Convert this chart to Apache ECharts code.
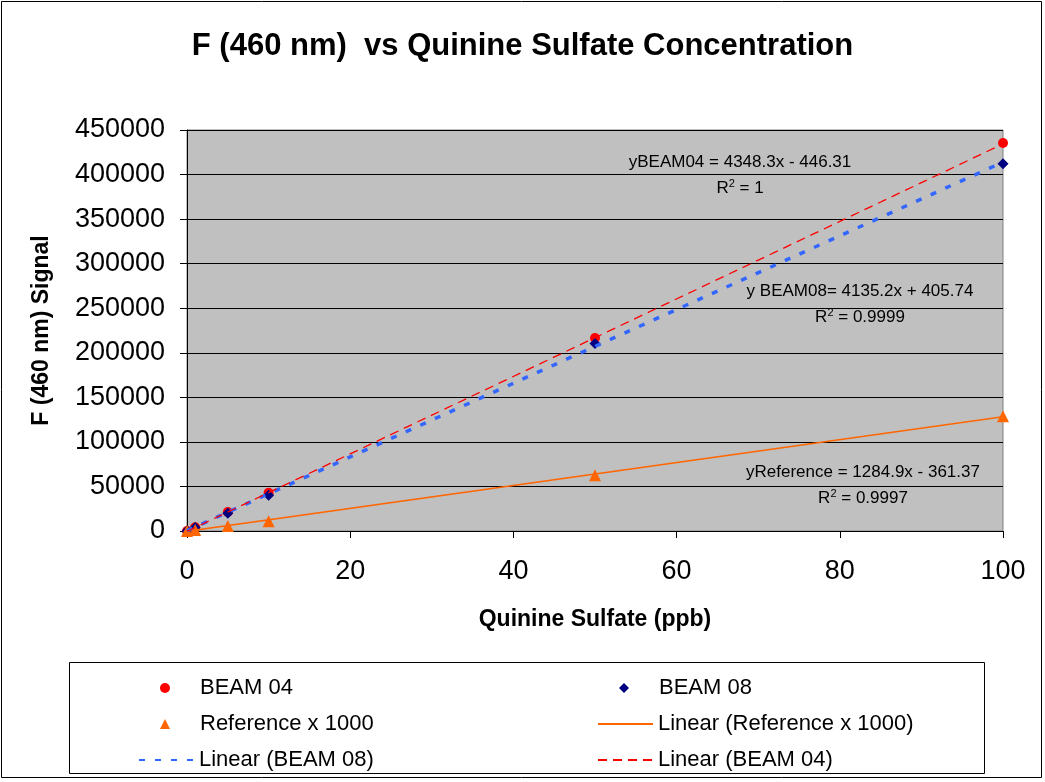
<!DOCTYPE html>
<html>
<head>
<meta charset="utf-8">
<title>F (460 nm) vs Quinine Sulfate Concentration</title>
<script src="https://cdn.jsdelivr.net/npm/echarts@6/dist/echarts.min.js"></script>
<style>
  html, body { margin: 0; padding: 0; background: #fff; }
  #chart { width: 1045px; height: 782px; }
</style>
</head>
<body>
<div id="chart"></div>
<script>
// data
const conc = [0, 1, 5, 10, 50, 100];
const beam04 = [0, 4200, 21300, 43000, 216500, 435500];
const beam08 = [0, 4000, 20000, 40000, 210500, 412000];
const reference = [0, 1000, 5500, 11000, 62500, 128800];

// trendline coefficients shown on the chart (slope, intercept, R2)
const fitNames = ['yBEAM04 = ', 'y BEAM08= ', 'yReference = '];
const fitSlope = [4348.3, 4135.2, 1284.9];
const fitIntercept = [-446.31, 405.74, -361.37];
const fitR2 = ['1', '0.9999', '0.9997'];
const xTicks = [0, 20, 40, 60, 80, 100];

const FONT = '"Liberation Sans", Arial, sans-serif';

let pairs = (ys) => conc.map((x, i) => [x, ys[i]]);
let fitLine = (k) => {
  const x0 = xTicks[0], x1 = xTicks[xTicks.length - 1];
  return [[x0, fitSlope[k] * x0 + fitIntercept[k]], [x1, fitSlope[k] * x1 + fitIntercept[k]]];
};
let eqText = (k) => {
  const b = fitIntercept[k];
  return fitNames[k] + fitSlope[k] + 'x ' + (b < 0 ? '- ' : '+ ') + Math.abs(b);
};

// equation labels, placed like the spreadsheet did
let eqLabel = (k, cx, cy) => ([
  {
    type: 'text', x: cx, y: cy, z: 100,
    style: { text: eqText(k), font: '17px ' + FONT, fill: '#000', align: 'center', verticalAlign: 'middle' }
  },
  {
    type: 'text', x: cx, y: cy + 26, z: 100,
    style: {
      text: '{r|R}{s|2}{r| = ' + fitR2[k] + '}',
      fill: '#000', align: 'center', verticalAlign: 'middle',
      rich: {
        r: { fontSize: 17, fontFamily: FONT, lineHeight: 20 },
        s: { fontSize: 11, fontFamily: FONT, lineHeight: 20, verticalAlign: 'top', padding: [0, 0, 8, 0] }
      }
    }
  }
]);

// one legend box per entry so markers and lines can sit like the original
const legendText = { fontFamily: FONT, fontSize: 22, color: '#000', lineHeight: 24 };
let markerLegend = (name, left, top) => ({
  left: left, top: top, itemWidth: 10, itemHeight: 10,
  textStyle: Object.assign({ padding: [0, 0, 0, 25] }, legendText),
  data: [{ name: name, itemStyle: { opacity: 1 } }]
});
let lineLegend = (name, left, top) => ({
  left: left, top: top, itemWidth: 55, itemHeight: 10,
  textStyle: legendText,
  data: [{ name: name, itemStyle: { color: 'rgba(0,0,0,0)', opacity: 0 } }]
});

// 1. init
let myChart = echarts.init(document.getElementById('chart'));

// 2. option
let option = {
  animation: false,
  backgroundColor: '#fff',
  title: {
    text: 'F (460 nm)  vs Quinine Sulfate Concentration',
    left: 'center',
    top: 26,
    textStyle: { fontFamily: FONT, fontSize: 31, fontWeight: 'bold', color: '#000' }
  },
  grid: {
    left: 187, right: 42, top: 130, bottom: 251,
    show: true,
    backgroundColor: '#C0C0C0',
    borderColor: '#808080',
    borderWidth: 1,
    containLabel: false,
    outerBoundsMode: 'none'
  },
  xAxis: {
    type: 'value',
    min: 0, max: 100, interval: 20,
    name: 'Quinine Sulfate (ppb)',
    nameLocation: 'middle',
    nameGap: 77,
    nameTextStyle: { fontFamily: FONT, fontSize: 23, fontWeight: 'bold', color: '#000', verticalAlign: 'top' },
    axisLine: { show: true, lineStyle: { color: '#000', width: 1 } },
    axisTick: { show: true, inside: false, length: 7, lineStyle: { color: '#000' } },
    axisLabel: { fontFamily: FONT, fontSize: 27, color: '#000', margin: 27 },
    splitLine: { show: false }
  },
  yAxis: {
    type: 'value',
    min: 0, max: 450000, interval: 50000,
    name: 'F (460 nm) Signal',
    nameLocation: 'middle',
    nameRotate: 90,
    nameGap: 134,
    nameTextStyle: { fontFamily: FONT, fontSize: 23, fontWeight: 'bold', color: '#000' },
    axisLine: { show: true, lineStyle: { color: '#000', width: 1 } },
    axisTick: { show: true, inside: false, length: 7, lineStyle: { color: '#000' } },
    axisLabel: { fontFamily: FONT, fontSize: 27, color: '#000', margin: 22, formatter: (v) => String(v) },
    splitLine: { show: true, lineStyle: { color: '#000', width: 1 } }
  },
  legend: [
    markerLegend('BEAM 04', 155, 671),
    markerLegend('Reference x 1000', 155, 707),
    lineLegend('Linear (BEAM 08)', 133, 743),
    markerLegend('BEAM 08', 614, 671),
    lineLegend('Linear (Reference x 1000)', 592, 707),
    lineLegend('Linear (BEAM 04)', 592, 743)
  ],
  graphic: [
    // outer chart border
    { type: 'rect', shape: { x: 1.5, y: 1.5, width: 1040, height: 776 }, style: { fill: 'none', stroke: '#000', lineWidth: 1 }, z: -1 },
    // legend frame
    { type: 'rect', shape: { x: 69.5, y: 662.5, width: 915, height: 111 }, style: { fill: 'none', stroke: '#000', lineWidth: 1 } },
    ...eqLabel(0, 740, 162),
    ...eqLabel(1, 860, 291),
    ...eqLabel(2, 863, 472)
  ],
  series: [
    {
      name: 'BEAM 04', type: 'scatter', symbol: 'circle', symbolSize: 10,
      itemStyle: { color: '#FF0000', opacity: 1 }, z: 3,
      data: pairs(beam04)
    },
    {
      name: 'BEAM 08', type: 'scatter', symbol: 'diamond', symbolSize: 11,
      itemStyle: { color: '#000080', opacity: 1 }, z: 3,
      data: pairs(beam08)
    },
    {
      name: 'Reference x 1000', type: 'scatter', symbol: 'triangle', symbolSize: 12,
      itemStyle: { color: '#FF6600', opacity: 1 }, z: 3,
      data: pairs(reference)
    },
    {
      name: 'Linear (Reference x 1000)', type: 'line', symbol: 'none', showSymbol: false,
      lineStyle: { color: '#FF6600', width: 1.5, type: 'solid' },
      itemStyle: { color: '#FF6600' }, z: 4,
      data: fitLine(2)
    },
    {
      name: 'Linear (BEAM 08)', type: 'line', symbol: 'none', showSymbol: false,
      lineStyle: { color: '#3366FF', width: 3.5, type: [6, 10] },
      itemStyle: { color: '#3366FF' }, z: 4,
      data: fitLine(1)
    },
    {
      name: 'Linear (BEAM 04)', type: 'line', symbol: 'none', showSymbol: false,
      lineStyle: { color: '#FF0000', width: 1.3, type: [9, 6] },
      itemStyle: { color: '#FF0000' }, z: 4,
      data: fitLine(0)
    }
  ]
};

// 3. apply
myChart.setOption(option);
window.addEventListener('resize', function () {
  myChart.resize();
});
</script>
</body>
</html>
